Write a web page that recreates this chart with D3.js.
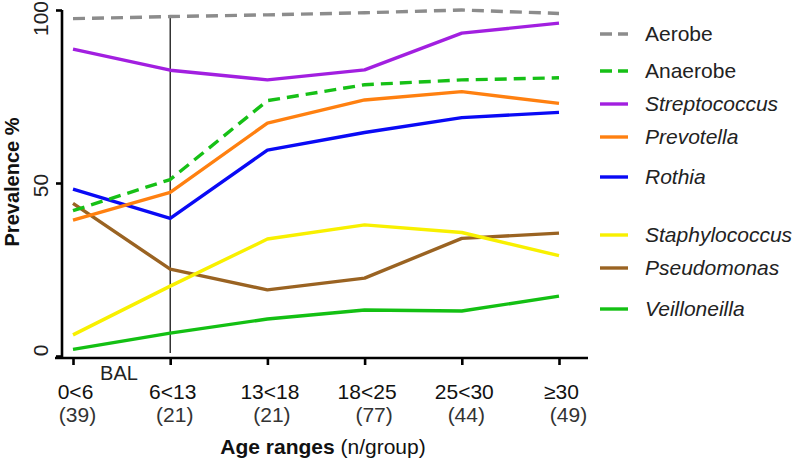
<!DOCTYPE html>
<html><head><meta charset="utf-8">
<script src="https://cdn.jsdelivr.net/npm/d3@7"></script>
<style>body{margin:0;background:#fff}svg{display:block;font-family:"Liberation Sans",Arial,sans-serif}</style>
</head><body><svg id="c" width="800" height="460"></svg>
<script>
const categories = ["0<6","6<13","13<18","18<25","25<30","≥30"];
const groupN = ["(39)","(21)","(21)","(77)","(44)","(49)"];
const yTicks = [0,50,100];
const aerobe = [97.5,98.1,98.6,99.2,100,99];
const anaerobe = [42,51,73.8,78.4,79.8,80.4];
const streptococcus = [88.7,82.6,79.8,82.7,93.3,96.2];
const prevotella = [39.3,47.3,67.3,74,76.4,73];
const rothia = [48.2,39.8,59.5,64.6,68.9,70.4];
const staphylococcus = [6.1,20.2,33.8,37.9,35.7,29];
const pseudomonas = [44.1,25.1,19.1,22.5,34,35.5];
const veilloneilla = [1.9,6.6,10.7,13.3,13,17.3];

const series = [
  {name:"Aerobe", values:aerobe, color:"#8c8c8c", dash:"12,7", italic:false, ly:34},
  {name:"Anaerobe", values:anaerobe, color:"#16c016", dash:"12,7", italic:false, ly:71},
  {name:"Streptococcus", values:streptococcus, color:"#a21fe0", dash:null, italic:true, ly:104},
  {name:"Prevotella", values:prevotella, color:"#ff8010", dash:null, italic:true, ly:137},
  {name:"Rothia", values:rothia, color:"#0a0af5", dash:null, italic:true, ly:177},
  {name:"Staphylococcus", values:staphylococcus, color:"#f8f000", dash:null, italic:true, ly:235},
  {name:"Pseudomonas", values:pseudomonas, color:"#9a6322", dash:null, italic:true, ly:268},
  {name:"Veilloneilla", values:veilloneilla, color:"#13c013", dash:null, italic:true, ly:309}
];

const FS = 21;
const svg = d3.select("#c");
const x = d3.scalePoint().domain(categories).range([73,559]);
const y = d3.scaleLinear().domain([0,100]).range([356,10]);

// BAL vertical line
svg.append("line").attr("x1",x("6<13")).attr("x2",x("6<13")).attr("y1",16).attr("y2",353)
  .attr("stroke","#000").attr("stroke-width",1.2);

const line = d3.line().x((d,i)=>x(categories[i])).y(d=>y(d));
const order = ["Veilloneilla","Pseudomonas","Staphylococcus","Rothia","Prevotella","Anaerobe","Streptococcus","Aerobe"];
order.forEach(n=>{
  const s = series.find(t=>t.name===n);
  svg.append("path").datum(s.values).attr("d",line).attr("fill","none")
    .attr("stroke",s.color).attr("stroke-width",3.4)
    .attr("stroke-dasharray",s.dash).attr("stroke-linejoin","round");
});

// y axis
const ya = svg.append("g").attr("transform","translate(62,0)")
  .call(d3.axisLeft(y).tickValues(yTicks).tickSize(6).tickSizeOuter(0).tickFormat(d3.format("d")));
ya.select(".domain").attr("stroke","#000").attr("stroke-width",2.6).attr("d","M0,10V358");
ya.selectAll(".tick line").attr("stroke","#000").attr("stroke-width",2.6);
ya.selectAll(".tick text").attr("transform","rotate(-90)")
  .attr("x",d=>d===100?-8:(d===0?6:-2)).attr("y",-14)
  .attr("dy","0").attr("text-anchor","middle").attr("font-size",FS).attr("fill","#222")
  .attr("font-family","Liberation Sans, Arial, sans-serif");

// x axis
const xa = svg.append("g").attr("transform","translate(0,358)")
  .call(d3.axisBottom(x).tickSize(7).tickSizeOuter(0).tickFormat(""));
xa.select(".domain").attr("stroke","#000").attr("stroke-width",2.6).attr("d","M55,0H588");
xa.selectAll(".tick line").attr("stroke","#000").attr("stroke-width",2.6);
xa.selectAll(".tick").each(function(d,i){
  const g = d3.select(this);
  g.append("text").attr("x",2).attr("y",41).attr("text-anchor","middle").attr("font-size",FS)
    .attr("fill","#111").attr("font-family","Liberation Sans, Arial, sans-serif").text(d);
  g.append("text").attr("y",64).attr("x",(i===3||i===5)?9:4).attr("text-anchor","middle").attr("font-size",FS)
    .attr("fill","#333").attr("font-family","Liberation Sans, Arial, sans-serif").text(groupN[i]);
});

svg.append("text").attr("x",119).attr("y",380).attr("text-anchor","middle")
  .attr("font-size",20).attr("fill","#222").text("BAL");

// axis titles
const xt = svg.append("text").attr("x",323).attr("y",454).attr("text-anchor","middle").attr("font-size",FS).attr("fill","#111");
xt.append("tspan").attr("font-weight","bold").text("Age ranges");
xt.append("tspan").text(" (n/group)");
svg.append("text").attr("transform","translate(19,182) rotate(-90)").attr("text-anchor","middle")
  .attr("font-size",20).attr("font-weight","bold").attr("fill","#111").text("Prevalence %");

// legend
series.forEach(s=>{
  svg.append("line").attr("x1",600).attr("x2",628).attr("y1",s.ly).attr("y2",s.ly)
    .attr("stroke",s.color).attr("stroke-width",3.4).attr("stroke-dasharray",s.dash?"12,6":null);
  svg.append("text").attr("x",645).attr("y",s.ly+7).attr("font-size",FS).attr("fill","#222")
    .attr("font-style",s.italic?"italic":"normal").text(s.name);
});
</script></body></html>
